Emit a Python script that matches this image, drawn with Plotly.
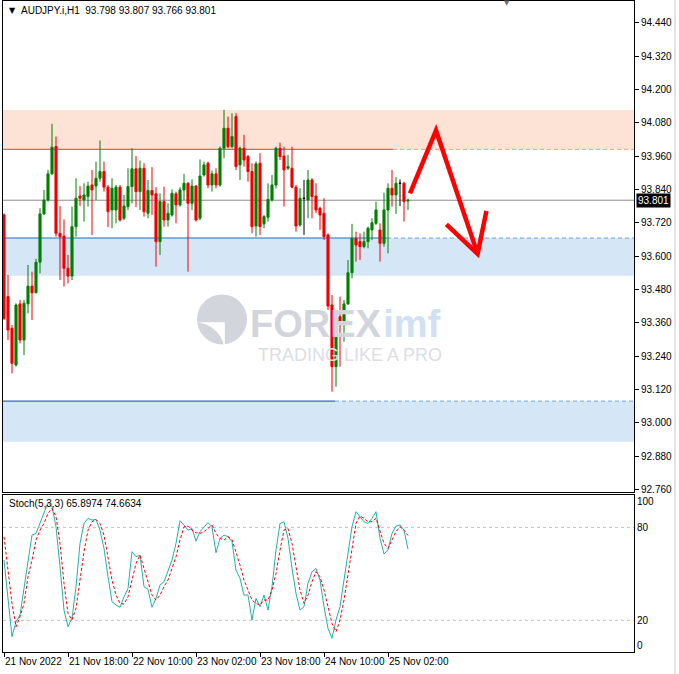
import plotly.graph_objects as go

# ---------------- data ----------------
bar_index = list(range(102))
opens = [93.748, 93.454, 93.340, 93.208, 93.428, 93.298, 93.428, 93.492, 93.468, 93.578,
         93.752, 93.802, 93.896, 93.994, 93.682, 93.672, 93.556, 93.528, 93.706, 93.816,
         93.802, 93.814, 93.856, 93.852, 93.880, 93.904, 93.848, 93.766, 93.766, 93.848,
         93.736, 93.778, 93.850, 93.914, 93.832, 93.916, 93.754, 93.836, 93.824, 93.652,
         93.796, 93.730, 93.748, 93.824, 93.784, 93.838, 93.862, 93.790, 93.852, 93.736,
         93.892, 93.934, 93.856, 93.896, 93.856, 93.988, 94.060, 93.994, 94.102, 93.928,
         93.988, 93.958, 93.904, 93.708, 93.934, 93.716, 93.740, 93.802, 93.856, 93.988,
         93.960, 93.916, 93.916, 93.848, 93.712, 93.808, 93.802, 93.874, 93.816, 93.772,
         93.754, 93.676, 93.424, 93.202, 93.382, 93.364, 93.428, 93.540, 93.664, 93.652,
         93.634, 93.652, 93.694, 93.718, 93.694, 93.646, 93.766, 93.844, 93.820, 93.862,
         93.862, 93.798]
highs = [93.754, 93.532, 93.352, 93.430, 93.442, 93.442, 93.568, 93.544, 93.590, 93.772,
         93.838, 93.910, 94.076, 94.030, 93.780, 93.732, 93.604, 93.778, 93.880, 93.852,
         93.862, 93.868, 93.910, 93.940, 94.016, 93.940, 93.856, 93.880, 93.856, 93.856,
         93.820, 93.916, 93.988, 93.960, 93.944, 93.934, 93.874, 93.920, 93.848, 93.826,
         93.850, 93.790, 93.840, 93.832, 93.848, 93.896, 93.866, 93.876, 93.856, 93.948,
         93.940, 93.940, 93.908, 93.916, 93.994, 94.126, 94.102, 94.114, 94.114, 93.994,
         94.036, 93.964, 93.934, 93.940, 93.970, 93.748, 93.862, 93.892, 93.994, 94.008,
         93.994, 93.964, 93.994, 93.856, 93.844, 93.874, 93.910, 93.880, 93.862, 93.778,
         93.808, 93.682, 93.460, 93.388, 93.454, 93.442, 93.586, 93.716, 93.688, 93.682,
         93.688, 93.706, 93.736, 93.796, 93.718, 93.828, 93.862, 93.910, 93.884, 93.876,
         93.868, 93.807]
lows = [93.370, 93.298, 93.178, 93.202, 93.286, 93.244, 93.394, 93.370, 93.466, 93.538,
        93.748, 93.796, 93.892, 93.670, 93.514, 93.490, 93.502, 93.514, 93.670, 93.780,
        93.724, 93.778, 93.676, 93.802, 93.868, 93.832, 93.704, 93.700, 93.718, 93.724,
        93.730, 93.766, 93.790, 93.776, 93.766, 93.742, 93.736, 93.748, 93.562, 93.604,
        93.706, 93.706, 93.742, 93.718, 93.778, 93.802, 93.544, 93.766, 93.724, 93.730,
        93.886, 93.844, 93.832, 93.844, 93.850, 93.952, 93.988, 93.988, 93.910, 93.874,
        93.922, 93.868, 93.682, 93.670, 93.676, 93.700, 93.724, 93.796, 93.844, 93.946,
        93.778, 93.910, 93.844, 93.688, 93.706, 93.676, 93.736, 93.736, 93.754, 93.694,
        93.658, 93.406, 93.112, 93.130, 93.202, 93.292, 93.424, 93.520, 93.580, 93.586,
        93.628, 93.628, 93.658, 93.712, 93.580, 93.634, 93.610, 93.778, 93.752, 93.780,
        93.724, 93.766]
closes = [93.376, 93.334, 93.214, 93.424, 93.298, 93.430, 93.492, 93.468, 93.578, 93.752,
          93.802, 93.896, 93.992, 93.682, 93.670, 93.556, 93.528, 93.706, 93.808, 93.808,
          93.820, 93.852, 93.838, 93.880, 93.904, 93.848, 93.760, 93.844, 93.848, 93.730,
          93.780, 93.850, 93.914, 93.832, 93.916, 93.760, 93.836, 93.820, 93.652, 93.796,
          93.730, 93.754, 93.826, 93.784, 93.838, 93.862, 93.790, 93.852, 93.730, 93.888,
          93.928, 93.856, 93.896, 93.856, 93.988, 94.060, 93.994, 94.030, 93.922, 93.988,
          93.946, 93.904, 93.706, 93.932, 93.706, 93.742, 93.804, 93.856, 93.988, 93.958,
          93.910, 93.922, 93.848, 93.708, 93.808, 93.808, 93.874, 93.814, 93.766, 93.748,
          93.670, 93.420, 93.202, 93.376, 93.364, 93.428, 93.540, 93.664, 93.640, 93.634,
          93.652, 93.700, 93.720, 93.766, 93.646, 93.766, 93.844, 93.820, 93.862, 93.862,
          93.796, 93.801]

stoch_main = [58.9, 34.0, 9.4, 19.1, 23.4, 40.6, 56.7, 75.0, 76.1, 82.5,
              89.0, 95.9, 93.3, 80.4, 54.6, 26.6, 15.9, 21.3, 41.7, 69.6,
              82.5, 85.8, 84.7, 85.1, 78.2, 66.4, 48.1, 32.0, 29.9, 28.4,
              35.2, 40.6, 64.3, 61.0, 62.1, 41.7, 40.0, 28.4, 34.2, 42.8,
              44.9, 52.4, 58.9, 69.6, 84.3, 81.5, 78.2, 79.3, 71.1, 77.2,
              80.4, 83.0, 80.4, 63.6, 72.9, 75.0, 74.0, 70.7, 52.4, 47.1,
              36.3, 36.3, 20.2, 34.2, 28.8, 36.3, 26.6, 41.7, 65.3, 82.5,
              83.6, 72.9, 53.5, 37.4, 26.6, 28.8, 43.8, 51.4, 53.5, 46.0,
              28.8, 14.8, 8.4, 20.2, 28.8, 46.0, 64.3, 80.4, 90.1, 86.9,
              83.6, 82.5, 85.8, 90.1, 72.9, 62.8, 65.3, 76.1, 80.8, 81.5,
              78.2, 65.9]
stoch_signal = [73.9, 52.4, 30.9, 15.9, 22.3, 30.9, 48.1, 58.9, 71.8, 78.2,
                82.5, 89.0, 92.2, 86.9, 69.6, 43.8, 24.5, 20.2, 27.7, 46.0,
                64.3, 78.2, 83.6, 85.1, 82.5, 75.0, 61.0, 46.0, 36.3, 30.9,
                30.5, 35.2, 46.0, 56.7, 62.1, 53.5, 46.0, 36.3, 33.1, 36.3,
                41.7, 46.0, 53.5, 61.0, 71.8, 80.4, 80.8, 78.2, 76.5, 76.1,
                77.2, 79.3, 81.5, 76.1, 72.9, 71.8, 74.0, 72.2, 64.3, 55.7,
                46.0, 39.5, 33.1, 30.9, 29.9, 33.1, 33.1, 39.5, 50.3, 65.3,
                78.2, 79.3, 69.6, 54.6, 39.5, 30.9, 36.3, 44.9, 51.4, 48.1,
                39.5, 28.8, 18.0, 12.6, 20.2, 33.1, 50.3, 67.5, 82.5, 87.3,
                85.8, 83.6, 83.6, 85.8, 78.2, 69.6, 66.4, 71.8, 77.2, 80.4,
                78.2, 74.7]

x_tick_bars = [0, 16, 32, 48, 64, 80, 96]
x_tick_labels = ["21 Nov 2022", "21 Nov 18:00", "22 Nov 10:00", "23 Nov 02:00",
                 "23 Nov 18:00", "24 Nov 10:00", "25 Nov 02:00"]
price_ticks = [92.760, 92.880, 93.000, 93.120, 93.240, 93.360, 93.480, 93.600,
               93.720, 93.840, 93.960, 94.080, 94.200, 94.320, 94.440]
price_tick_labels = ["92.760", "92.880", "93.000", "93.120", "93.240", "93.360", "93.480",
                     "93.600", "93.720", "93.840", "93.960", "94.080", "94.200", "94.320",
                     "94.440"]
stoch_levels = [20, 80]

# zones / levels (price)
supply_zone = (93.984, 94.126)
demand_zone_1 = (93.529, 93.665)
demand_zone_2 = (92.932, 93.078)
last_price = 93.801
header_text = "AUDJPY.i,H1  93.798 93.807 93.766 93.801"
stoch_text = "Stoch(5,3,3) 65.8974 74.6634"

# ---------------- styling / layout helpers ----------------
W, H = 679, 674
ML, MR, MT, MB = 3, 45, 1, 22
PW, PH = W - ML - MR, H - MT - MB
FONT = "Liberation Sans"
GREEN = "#008000"
RED = "#f20000"


def px(x):
    return (x - ML) / PW


def py(y):
    return (H - MB - y) / PH


X_RANGE = [-0.25, 157.5]
MAIN_DOMAIN = [py(492), 1.0]
STOCH_DOMAIN = [0.0, py(494.5)]

fig = go.Figure()

# watermark (drawn first so candles are above it)
fig.add_trace(go.Scatter(x=[54.5], y=[93.372], mode="markers", hoverinfo="skip",
                         marker=dict(size=50, color="#d3d5dc", symbol="circle"),
                         showlegend=False))
fig.add_trace(go.Scatter(x=[55.2], y=[93.362], mode="markers", hoverinfo="skip",
                         marker=dict(size=30, color="white", symbol="arrow-wide", angle=45),
                         showlegend=False))
fig.add_trace(go.Scatter(x=[61.5], y=[93.342], mode="text", text=["<b>FOREX</b>"],
                         textposition="middle right", hoverinfo="skip",
                         textfont=dict(family=FONT, size=38, color="#d3d5dc"),
                         showlegend=False))
fig.add_trace(go.Scatter(x=[94.8], y=[93.342], mode="text", text=["<b>imf</b>"],
                         textposition="middle right", hoverinfo="skip",
                         textfont=dict(family=FONT, size=38, color="#cfe1f2"),
                         showlegend=False))
fig.add_trace(go.Scatter(x=[63.5], y=[93.240], mode="text", text=["TRADING LIKE A PRO"],
                         textposition="middle right", hoverinfo="skip",
                         textfont=dict(family=FONT, size=18, color="#dcdee3"),
                         showlegend=False))

# candles
doji = [i for i in bar_index if opens[i] == closes[i]]
normal = [i for i in bar_index if opens[i] != closes[i]]


def sel(arr, idx):
    return [arr[i] for i in idx]


fig.add_trace(go.Candlestick(
    x=sel(bar_index, normal), open=sel(opens, normal), high=sel(highs, normal),
    low=sel(lows, normal), close=sel(closes, normal),
    increasing=dict(line=dict(color=GREEN, width=1), fillcolor=GREEN),
    decreasing=dict(line=dict(color=RED, width=1), fillcolor=RED),
    showlegend=False, xaxis="x", yaxis="y"))
fig.add_trace(go.Candlestick(
    x=sel(bar_index, doji), open=sel(opens, doji), high=sel(highs, doji),
    low=sel(lows, doji), close=sel(closes, doji),
    increasing=dict(line=dict(color="black", width=1), fillcolor="black"),
    decreasing=dict(line=dict(color="black", width=1), fillcolor="black"),
    showlegend=False, xaxis="x", yaxis="y"))

# stochastic
fig.add_trace(go.Scatter(x=bar_index, y=stoch_main, mode="lines",
                         line=dict(color="#20b2aa", width=1), xaxis="x2", yaxis="y2",
                         showlegend=False))
fig.add_trace(go.Scatter(x=bar_index, y=stoch_signal, mode="lines",
                         line=dict(color="#ff0000", width=1, dash="3px,2px"),
                         xaxis="x2", yaxis="y2", showlegend=False))

shapes = []
# zones
for (lo, hi), col in [(supply_zone, "#fde2d6"), (demand_zone_1, "#d5e6f7"),
                      (demand_zone_2, "#d5e6f7")]:
    shapes.append(dict(type="rect", xref="x domain", yref="y", x0=0, x1=1, y0=lo, y1=hi,
                       fillcolor=col, line=dict(width=0), layer="below"))
# zone edge lines: solid then dashed
for level, col, dcol, x_split in [(supply_zone[0], "#f06a1e", "#f4a070", 97.25),
                                  (demand_zone_1[1], "#1f6fc4", "#6fa3dc", 95.75),
                                  (demand_zone_2[1], "#1f6fc4", "#6fa3dc", 82.75)]:
    shapes.append(dict(type="line", xref="x", yref="y", x0=X_RANGE[0], x1=x_split,
                       y0=level, y1=level, line=dict(color=col, width=1.2), layer="below"))
    shapes.append(dict(type="line", xref="x", yref="y", x0=x_split, x1=X_RANGE[1],
                       y0=level, y1=level, line=dict(color=dcol, width=1, dash="4px,3px"),
                       layer="below"))
# current price line
shapes.append(dict(type="line", xref="x domain", yref="y", x0=0, x1=1, y0=last_price,
                   y1=last_price, line=dict(color="#8c8c8c", width=1), layer="below"))
# stochastic levels
for lv in stoch_levels:
    shapes.append(dict(type="line", xref="x2 domain", yref="y2", x0=0, x1=1, y0=lv, y1=lv,
                       line=dict(color="#c0c0c0", width=1, dash="3px,3px"), layer="below"))
# hand drawn arrow (in chart coordinates: bar index, price)
shapes.append(dict(type="path", xref="x", yref="y",
                   path="M 101.5 93.826 L 108.0 94.052 L 118.4 93.608",
                   line=dict(color="#ff0000", width=4.5)))
shapes.append(dict(type="path", xref="x", yref="y",
                   path="M 110.6 93.714 L 118.4 93.608 L 120.6 93.762",
                   line=dict(color="#ff0000", width=4.5)))
# window border at the right
shapes.append(dict(type="line", xref="paper", yref="paper", x0=px(675), x1=px(675),
                   y0=py(0), y1=py(674), line=dict(color="#c8c8c8", width=1)))

annotations = [
    dict(xref="paper", yref="paper", x=px(7), y=py(10), xanchor="left", yanchor="middle",
         text="▼", showarrow=False, font=dict(family="DejaVu Sans", size=8, color="black")),
    dict(xref="paper", yref="paper", x=px(19), y=py(10), xanchor="left", yanchor="middle",
         text=header_text, showarrow=False, font=dict(family=FONT, size=10, color="black")),
    dict(xref="paper", yref="paper", x=px(7), y=py(503), xanchor="left", yanchor="middle",
         text=stoch_text, showarrow=False, font=dict(family=FONT, size=10, color="black")),
    dict(xref="paper", yref="y", x=px(636), y=last_price, xanchor="left", yanchor="middle",
         text="93.801", showarrow=False, bgcolor="black", borderpad=1,
         font=dict(family=FONT, size=10, color="white")),
    dict(xref="paper", yref="paper", x=px(507), y=py(3), xanchor="center", yanchor="middle",
         text="▼", showarrow=False, font=dict(family="DejaVu Sans", size=7, color="#707070")),
]

axis_common = dict(showgrid=False, zeroline=False, showline=True, mirror=True,
                   linecolor="black", linewidth=1, automargin=False)

fig.update_layout(
    width=W, height=H, margin=dict(l=ML, r=MR, t=MT, b=MB, autoexpand=False),
    paper_bgcolor="white", plot_bgcolor="white", showlegend=False,
    font=dict(family=FONT, size=10, color="black"),
    shapes=shapes, annotations=annotations, boxgap=0.25,
    xaxis=dict(domain=[0, 1], range=X_RANGE, anchor="y", showticklabels=False, ticks="",
               rangeslider=dict(visible=False), **axis_common),
    yaxis=dict(domain=MAIN_DOMAIN, range=[92.751, 94.518], side="right", anchor="x",
               tickvals=price_ticks, ticktext=price_tick_labels, ticks="outside",
               ticklen=4, tickcolor="black", tickfont=dict(family=FONT, size=10),
               **axis_common),
    xaxis2=dict(domain=[0, 1], range=X_RANGE, anchor="y2", tickvals=x_tick_bars,
                ticktext=x_tick_labels, ticks="outside", ticklen=4, tickcolor="black",
                tickangle=0, ticklabelposition="outside right",
                tickfont=dict(family=FONT, size=10), **axis_common),
    yaxis2=dict(domain=STOCH_DOMAIN, range=[-0.45, 101.2], side="right", anchor="x2",
                tickvals=[4, 20, 80, 97], ticktext=["0", "20", "80", "100"], ticks="",
                tickfont=dict(family=FONT, size=10), **axis_common),
)

fig.write_html("out.html", config=dict(displayModeBar=False),
               post_script="document.body.style.margin='0';document.body.style.overflow='hidden';")
